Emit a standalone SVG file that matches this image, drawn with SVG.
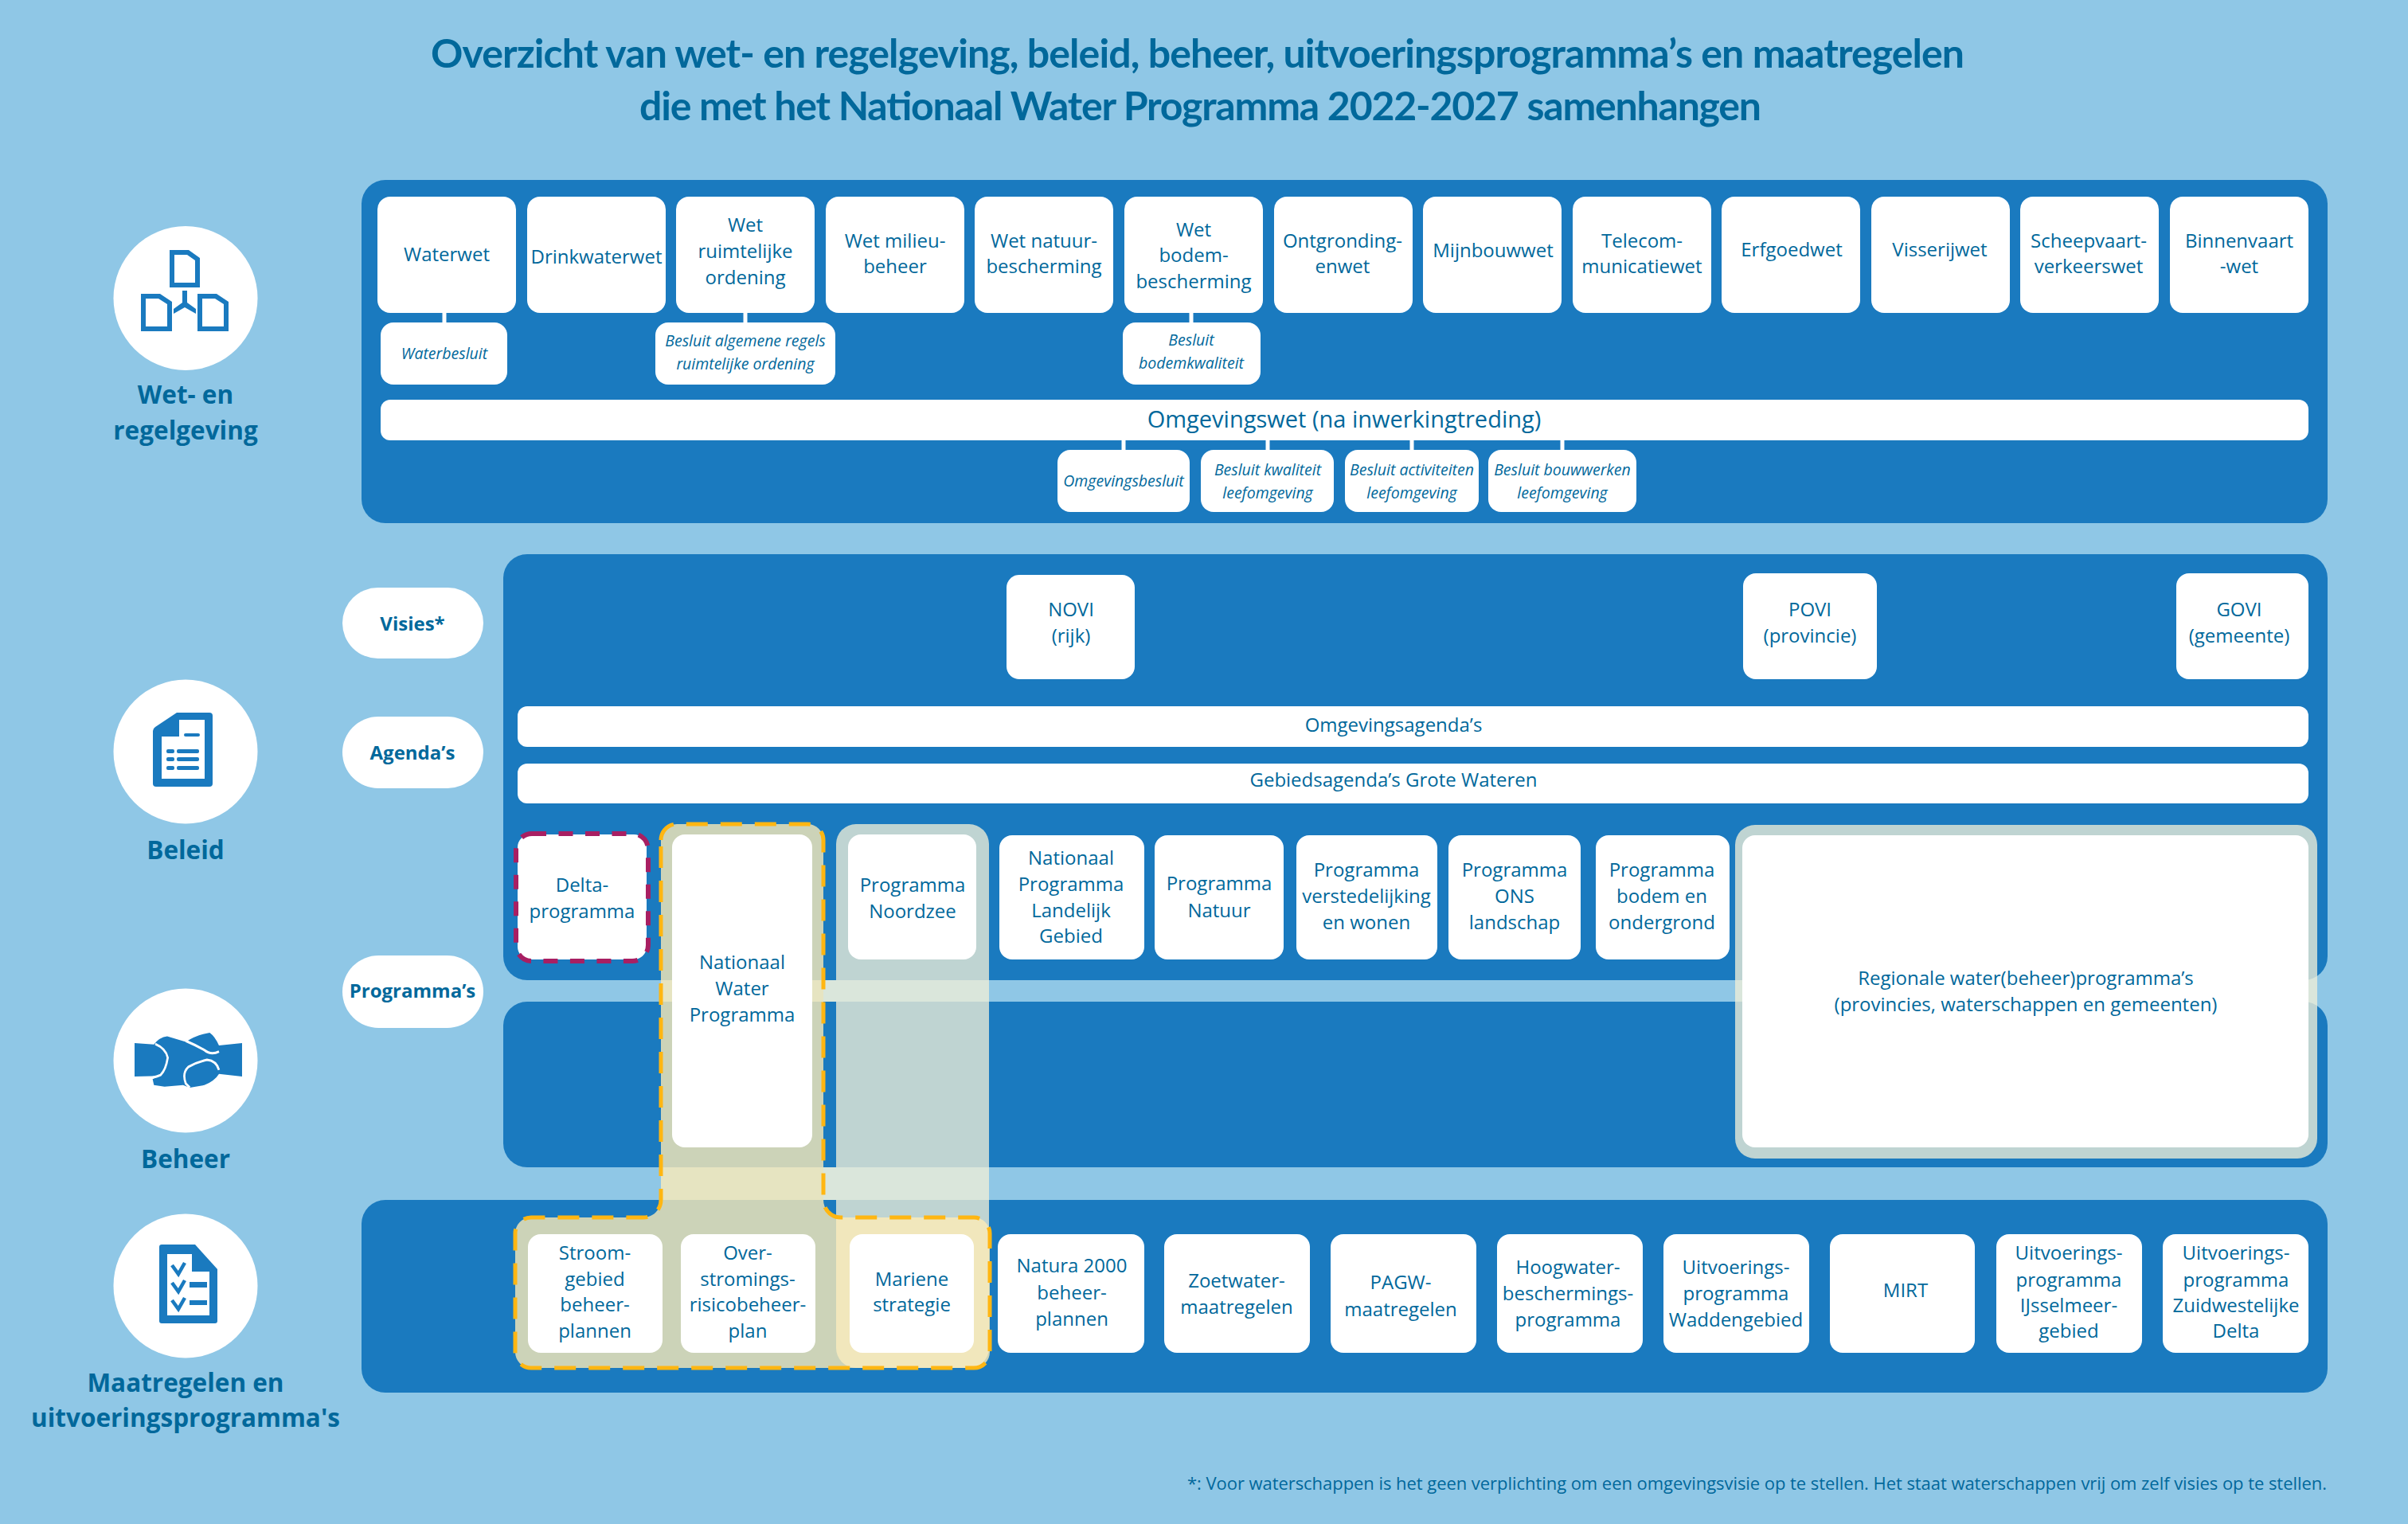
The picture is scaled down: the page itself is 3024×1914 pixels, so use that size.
<svg xmlns="http://www.w3.org/2000/svg" width="3024" height="1914" viewBox="0 0 3024 1914">
<style>
text{font-family:"Open Sans","Noto Sans",sans-serif;fill:#01689B;text-anchor:middle}
.t{font-size:24px}
.s{font-size:19.5px;font-style:italic}
.h{font-family:"Lato","Open Sans",sans-serif;font-size:50px;font-weight:700;text-anchor:start}
.l{font-size:31.5px;font-weight:700}
.p{font-size:24px;font-weight:700}
.f{font-size:22px;text-anchor:start}
.w{font-size:29px}
.b{fill:#fff}
.panel{fill:#1A7ABF}
.icon{fill:#1A7ABF}
.ic{fill:#fff}
.ln{fill:none;stroke:#1A7ABF}
.conn{stroke:#fff;stroke-width:5;fill:none}
.grey{fill:#F1F0D8;fill-opacity:.77}
.yel{fill:#FFECB6;fill-opacity:.78}
</style>
<rect width="3024" height="1914" fill="#8FC7E6"/>
<g id="title">
<text class="h" x="541" y="85" textLength="1926" lengthAdjust="spacing">Overzicht van wet- en regelgeving, beleid, beheer, uitvoeringsprogramma’s en maatregelen</text>
<text class="h" x="803" y="151" textLength="1409" lengthAdjust="spacing">die met het Nationaal Water Programma 2022-2027 samenhangen</text>
</g>
<g id="panels">
<rect class="panel" x="454" y="226" width="2469" height="431" rx="30"/>
<rect class="panel" x="632" y="696" width="2291" height="535" rx="30"/>
<rect class="panel" x="632" y="1258" width="2291" height="208" rx="30"/>
<rect class="panel" x="454" y="1507" width="2469" height="242" rx="30"/>
</g>
<g id="overlays">
<rect class="grey" x="1050" y="1035" width="192" height="683" rx="25"/>
<rect class="grey" x="1034" y="1231" width="16" height="27"/>
<rect class="grey" x="1034" y="1466" width="16" height="41"/>
<rect class="grey" x="2179" y="1036" width="731" height="419" rx="25"/>
<path id="nwp-highlight" class="yel" stroke="#FFB612" stroke-width="5" stroke-dasharray="27 16" d="M830 1055A20 20 0 0 1 850 1035H1014A20 20 0 0 1 1034 1055V1507A22 22 0 0 0 1056 1529H1223A20 20 0 0 1 1243 1549V1698A20 20 0 0 1 1223 1718H667A20 20 0 0 1 647 1698V1549A20 20 0 0 1 667 1529H808A22 22 0 0 0 830 1507Z"/>
</g>
<g id="connectors" class="conn">
<line x1="558" y1="390" x2="558" y2="408"/>
<line x1="936" y1="390" x2="936" y2="408"/>
<line x1="1496" y1="390" x2="1496" y2="408"/>
<line x1="1411" y1="550" x2="1411" y2="568"/>
<line x1="1592" y1="550" x2="1592" y2="568"/>
<line x1="1773" y1="550" x2="1773" y2="568"/>
<line x1="1962" y1="550" x2="1962" y2="568"/>
</g>
<g id="cat-wet">
<circle class="b" cx="233" cy="374.5" r="90.5"/>
<g class="icon">
<path fill-rule="evenodd" d="M213 314H237L251 324V361H213ZM219 320V355H245V327L235 320Z"/>
<path fill-rule="evenodd" d="M177 369H201L216 379V416H177ZM183 375V410H210V382L199 375Z"/>
<path fill-rule="evenodd" d="M248 369H272L287 379V416H248ZM254 375V410H281V382L270 375Z"/>
<path d="M229 365H235V380L246 388V394L232 386L218 394V388L229 380Z"/>
</g>
<text class="l" x="233" y="507">Wet- en</text>
<text class="l" x="233" y="552">regelgeving</text>
</g>
<g id="cat-beleid">
<circle class="b" cx="233" cy="944" r="90.5"/>
<path class="icon" d="M222 895H263Q267 895 267 899V984Q267 988 263 988H196Q192 988 192 984V918Q192 915 195 913Z"/>
<path class="ic" d="M225 904H257V978H203V925H225Z"/>
<g class="icon">
<rect x="231" y="921" width="20" height="4" rx="2"/>
<rect x="209" y="941" width="10" height="5" rx="2"/>
<rect x="209" y="951" width="10" height="5" rx="2"/>
<rect x="209" y="962" width="10" height="5" rx="2"/>
<rect x="222" y="941" width="28" height="5" rx="2"/>
<rect x="222" y="951" width="28" height="5" rx="2"/>
<rect x="222" y="962" width="28" height="5" rx="2"/>
</g>
<text class="l" x="233" y="1079">Beleid</text>
</g>
<g id="cat-beheer">
<circle class="b" cx="233" cy="1332" r="90.5"/>
<g transform="translate(100 1200) scale(.3333 .3831)">
<path class="icon" d="M207 287L280 292Q300 268 330 265L400 283Q440 260 490 253Q510 265 525 295L612 287V397L525 388Q510 410 470 425L415 433L390 425L320 430L280 425L275 405L300 395L207 397Z"/>
<path fill="none" stroke="#fff" stroke-width="8" d="M285 290Q325 305 332 335Q325 375 305 392Q290 398 275 400M400 280Q440 295 470 310Q495 328 525 315M525 375Q515 345 480 342Q440 350 410 365Q385 385 400 420L415 433"/>
</g>
<text class="l" x="233" y="1467">Beheer</text>
</g>
<g id="cat-maatregelen">
<circle class="b" cx="233" cy="1615" r="90.5"/>
<path class="icon" d="M203 1563H245L273 1594V1659Q273 1662 270 1662H203Q200 1662 200 1659V1566Q200 1563 203 1563Z"/>
<path class="ic" d="M210 1575H241V1597H263V1652H210Z"/>
<path class="ln" stroke-width="4.5" d="M216 1589L224 1600L232 1586M216 1611L224 1622L232 1608M216 1633L224 1644L232 1630"/>
<rect class="icon" x="238" y="1610" width="22" height="7"/>
<rect class="icon" x="238" y="1633" width="22" height="6"/>
<text class="l" x="233" y="1748">Maatregelen en</text>
<text class="l" x="233" y="1792">uitvoeringsprogramma's</text>
</g>
<g id="pill-visies"><rect class="b" x="430" y="738" width="177" height="89" rx="44.5"/><text class="p" x="518" y="792">Visies*</text></g>
<g id="pill-agendas"><rect class="b" x="430" y="900" width="177" height="90" rx="45"/><text class="p" x="518" y="954">Agenda’s</text></g>
<g id="pill-programmas"><rect class="b" x="430" y="1200" width="177" height="91" rx="45.5"/><text class="p" x="518" y="1253">Programma’s</text></g>

<g id="wet-waterwet"><rect class="b" x="474" y="247" width="174" height="146" rx="16"/><text class="t" x="561" y="328">Waterwet</text></g>
<g id="wet-drinkwaterwet"><rect class="b" x="662" y="247" width="174" height="146" rx="16"/><text class="t" x="749" y="331">Drinkwaterwet</text></g>
<g id="wet-ruimtelijke"><rect class="b" x="849" y="247" width="174" height="146" rx="16"/><text class="t" x="936" y="291">Wet</text><text class="t" x="936" y="324">ruimtelijke</text><text class="t" x="936" y="357">ordening</text></g>
<g id="wet-milieu"><rect class="b" x="1037" y="247" width="174" height="146" rx="16"/><text class="t" x="1124" y="311">Wet milieu-</text><text class="t" x="1124" y="343">beheer</text></g>
<g id="wet-natuur"><rect class="b" x="1224" y="247" width="174" height="146" rx="16"/><text class="t" x="1311" y="311">Wet natuur-</text><text class="t" x="1311" y="343">bescherming</text></g>
<g id="wet-bodem"><rect class="b" x="1412" y="247" width="174" height="146" rx="16"/><text class="t" x="1499" y="297">Wet</text><text class="t" x="1499" y="329">bodem-</text><text class="t" x="1499" y="362">bescherming</text></g>
<g id="wet-ontgronding"><rect class="b" x="1600" y="247" width="174" height="146" rx="16"/><text class="t" x="1686" y="311">Ontgronding-</text><text class="t" x="1686" y="343">enwet</text></g>
<g id="wet-mijnbouw"><rect class="b" x="1787" y="247" width="174" height="146" rx="16"/><text class="t" x="1875" y="323">Mijnbouwwet</text></g>
<g id="wet-telecom"><rect class="b" x="1975" y="247" width="174" height="146" rx="16"/><text class="t" x="2062" y="311">Telecom-</text><text class="t" x="2062" y="343">municatiewet</text></g>
<g id="wet-erfgoed"><rect class="b" x="2162" y="247" width="174" height="146" rx="16"/><text class="t" x="2250" y="322">Erfgoedwet</text></g>
<g id="wet-visserij"><rect class="b" x="2350" y="247" width="174" height="146" rx="16"/><text class="t" x="2436" y="322">Visserijwet</text></g>
<g id="wet-scheepvaart"><rect class="b" x="2537" y="247" width="174" height="146" rx="16"/><text class="t" x="2623" y="311">Scheepvaart-</text><text class="t" x="2623" y="343">verkeerswet</text></g>
<g id="wet-binnenvaart"><rect class="b" x="2725" y="247" width="174" height="146" rx="16"/><text class="t" x="2812" y="311">Binnenvaart</text><text class="t" x="2812" y="343">-wet</text></g>

<g id="sub-waterbesluit"><rect class="b" x="478" y="405" width="159" height="78" rx="16"/><text class="s" x="558" y="451">Waterbesluit</text></g>
<g id="sub-algemene"><rect class="b" x="823" y="405" width="226" height="78" rx="16"/><text class="s" x="936" y="435">Besluit algemene regels</text><text class="s" x="936" y="464">ruimtelijke ordening</text></g>
<g id="sub-bodem"><rect class="b" x="1410" y="405" width="173" height="78" rx="16"/><text class="s" x="1496" y="434">Besluit</text><text class="s" x="1496" y="463">bodemkwaliteit</text></g>
<g id="omgevingswet"><rect class="b" x="478" y="502" width="2421" height="51" rx="12"/><text class="w" x="1688" y="537">Omgevingswet (na inwerkingtreding)</text></g>
<g id="sub-omgevingsbesluit"><rect class="b" x="1328" y="565" width="166" height="78" rx="16"/><text class="s" x="1411" y="611">Omgevingsbesluit</text></g>
<g id="sub-kwaliteit"><rect class="b" x="1508" y="565" width="167" height="78" rx="16"/><text class="s" x="1592" y="597">Besluit kwaliteit</text><text class="s" x="1592" y="626">leefomgeving</text></g>
<g id="sub-activiteiten"><rect class="b" x="1689" y="565" width="168" height="78" rx="16"/><text class="s" x="1773" y="597">Besluit activiteiten</text><text class="s" x="1773" y="626">leefomgeving</text></g>
<g id="sub-bouwwerken"><rect class="b" x="1869" y="565" width="186" height="78" rx="16"/><text class="s" x="1962" y="597">Besluit bouwwerken</text><text class="s" x="1962" y="626">leefomgeving</text></g>

<g id="visie-novi"><rect class="b" x="1264" y="722" width="161" height="131" rx="16"/><text class="t" x="1345" y="774">NOVI</text><text class="t" x="1345" y="807">(rijk)</text></g>
<g id="visie-povi"><rect class="b" x="2189" y="720" width="168" height="133" rx="16"/><text class="t" x="2273" y="774">POVI</text><text class="t" x="2273" y="807">(provincie)</text></g>
<g id="visie-govi"><rect class="b" x="2733" y="720" width="166" height="133" rx="16"/><text class="t" x="2812" y="774">GOVI</text><text class="t" x="2812" y="807">(gemeente)</text></g>
<g id="omgevingsagendas"><rect class="b" x="650" y="887" width="2249" height="51" rx="12"/><text class="t" x="1750" y="919">Omgevingsagenda’s</text></g>
<g id="gebiedsagendas"><rect class="b" x="650" y="959" width="2249" height="50" rx="12"/><text class="t" x="1750" y="988">Gebiedsagenda’s Grote Wateren</text></g>

<g id="prog-delta"><rect class="b" x="650" y="1048" width="162" height="157" rx="16"/><rect x="648" y="1047" width="166" height="160" rx="20" fill="none" stroke="#A81F62" stroke-width="6" stroke-dasharray="18 15.5"/><text class="t" x="731" y="1120">Delta-</text><text class="t" x="731" y="1153">programma</text></g>
<g id="prog-nwp"><rect class="b" x="844" y="1048" width="176" height="393" rx="16"/><text class="t" x="932" y="1217">Nationaal</text><text class="t" x="932" y="1250">Water</text><text class="t" x="932" y="1283">Programma</text></g>
<g id="prog-noordzee"><rect class="b" x="1065" y="1048" width="161" height="157" rx="16"/><text class="t" x="1146" y="1120">Programma</text><text class="t" x="1146" y="1153">Noordzee</text></g>
<g id="prog-landelijk"><rect class="b" x="1255" y="1049" width="182" height="156" rx="16"/><text class="t" x="1345" y="1086">Nationaal</text><text class="t" x="1345" y="1119">Programma</text><text class="t" x="1345" y="1152">Landelijk</text><text class="t" x="1345" y="1184">Gebied</text></g>
<g id="prog-natuur"><rect class="b" x="1450" y="1049" width="162" height="156" rx="16"/><text class="t" x="1531" y="1118">Programma</text><text class="t" x="1531" y="1152">Natuur</text></g>
<g id="prog-verstedelijking"><rect class="b" x="1628" y="1049" width="177" height="156" rx="16"/><text class="t" x="1716" y="1101">Programma</text><text class="t" x="1716" y="1134">verstedelijking</text><text class="t" x="1716" y="1167">en wonen</text></g>
<g id="prog-ons"><rect class="b" x="1819" y="1049" width="166" height="156" rx="16"/><text class="t" x="1902" y="1101">Programma</text><text class="t" x="1902" y="1134">ONS</text><text class="t" x="1902" y="1167">landschap</text></g>
<g id="prog-bodem"><rect class="b" x="2004" y="1049" width="168" height="156" rx="16"/><text class="t" x="2087" y="1101">Programma</text><text class="t" x="2087" y="1134">bodem en</text><text class="t" x="2087" y="1167">ondergrond</text></g>
<g id="prog-regionaal"><rect class="b" x="2188" y="1049" width="711" height="392" rx="16"/><text class="t" x="2544" y="1237">Regionale water(beheer)programma’s</text><text class="t" x="2544" y="1270">(provincies, waterschappen en gemeenten)</text></g>

<g id="mr-stroom"><rect class="b" x="663" y="1550" width="169" height="149" rx="16"/><text class="t" x="747" y="1582">Stroom-</text><text class="t" x="747" y="1615">gebied</text><text class="t" x="747" y="1647">beheer-</text><text class="t" x="747" y="1680">plannen</text></g>
<g id="mr-over"><rect class="b" x="855" y="1550" width="169" height="149" rx="16"/><text class="t" x="939" y="1582">Over-</text><text class="t" x="939" y="1615">stromings-</text><text class="t" x="939" y="1647">risicobeheer-</text><text class="t" x="939" y="1680">plan</text></g>
<g id="mr-mariene"><rect class="b" x="1067" y="1550" width="156" height="149" rx="16"/><text class="t" x="1145" y="1615">Mariene</text><text class="t" x="1145" y="1647">strategie</text></g>
<g id="mr-natura"><rect class="b" x="1253" y="1550" width="184" height="149" rx="16"/><text class="t" x="1346" y="1598">Natura 2000</text><text class="t" x="1346" y="1632">beheer-</text><text class="t" x="1346" y="1665">plannen</text></g>
<g id="mr-zoetwater"><rect class="b" x="1462" y="1550" width="183" height="149" rx="16"/><text class="t" x="1553" y="1617">Zoetwater-</text><text class="t" x="1553" y="1650">maatregelen</text></g>
<g id="mr-pagw"><rect class="b" x="1671" y="1550" width="183" height="149" rx="16"/><text class="t" x="1759" y="1619">PAGW-</text><text class="t" x="1759" y="1653">maatregelen</text></g>
<g id="mr-hoogwater"><rect class="b" x="1880" y="1550" width="183" height="149" rx="16"/><text class="t" x="1969" y="1600">Hoogwater-</text><text class="t" x="1969" y="1633">beschermings-</text><text class="t" x="1969" y="1666">programma</text></g>
<g id="mr-wadden"><rect class="b" x="2089" y="1550" width="183" height="149" rx="16"/><text class="t" x="2180" y="1600">Uitvoerings-</text><text class="t" x="2180" y="1633">programma</text><text class="t" x="2180" y="1666">Waddengebied</text></g>
<g id="mr-mirt"><rect class="b" x="2298" y="1550" width="182" height="149" rx="16"/><text class="t" x="2393" y="1629">MIRT</text></g>
<g id="mr-ijsselmeer"><rect class="b" x="2507" y="1550" width="183" height="149" rx="16"/><text class="t" x="2598" y="1582">Uitvoerings-</text><text class="t" x="2598" y="1616">programma</text><text class="t" x="2598" y="1648">IJsselmeer-</text><text class="t" x="2598" y="1680">gebied</text></g>
<g id="mr-zuidwest"><rect class="b" x="2716" y="1550" width="183" height="149" rx="16"/><text class="t" x="2808" y="1582">Uitvoerings-</text><text class="t" x="2808" y="1616">programma</text><text class="t" x="2808" y="1648">Zuidwestelijke</text><text class="t" x="2808" y="1680">Delta</text></g>
<text class="f" x="1491" y="1871" textLength="1431" lengthAdjust="spacing">*: Voor waterschappen is het geen verplichting om een omgevingsvisie op te stellen. Het staat waterschappen vrij om zelf visies op te stellen.</text>
</svg>
